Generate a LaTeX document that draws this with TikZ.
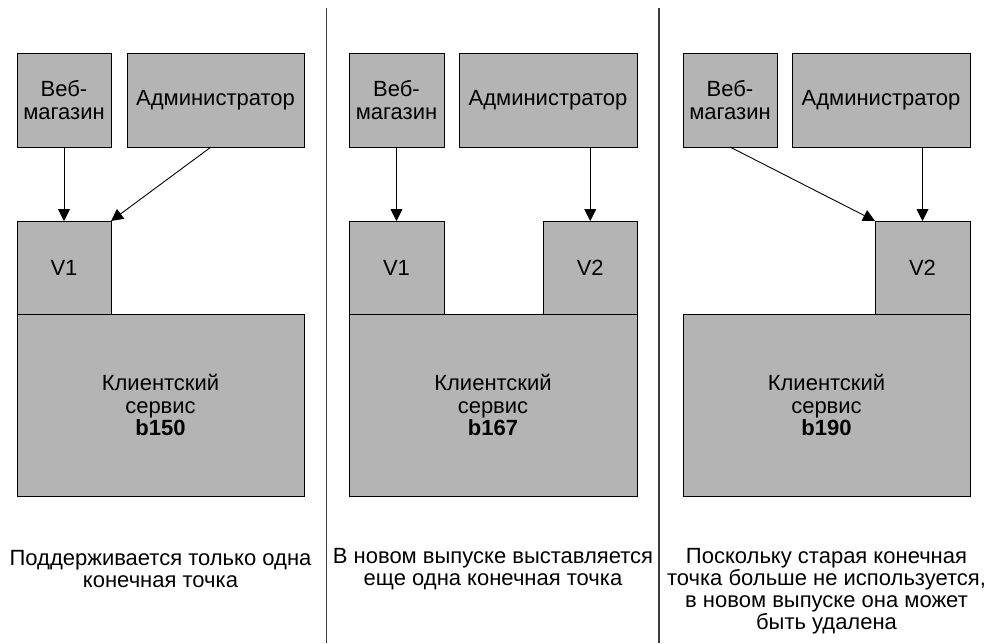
\documentclass[tikz,border=0pt]{standalone}
\usepackage{fontspec}
\setmainfont{Liberation Sans}
\usetikzlibrary{arrows.meta}
\definecolor{boxgray}{RGB}{180,180,180}
\definecolor{sepgray}{RGB}{60,60,60}
\begin{document}
\begin{tikzpicture}[x=1pt,y=-1pt,
  blk/.style={draw=black,line width=0.9pt,fill=boxgray,rectangle,inner sep=0pt,outer sep=0pt,
    font=\fontsize{22}{22.5}\selectfont,align=center},
  sz/.style n args={2}{minimum width=#1pt,minimum height=#2pt},
  captxt/.style={font=\fontsize{22}{22}\selectfont,align=center,inner sep=0pt},
  link/.style={line width=0.9pt,-{Triangle[length=12pt,width=12pt]}},
  sepline/.style={draw=sepgray,line width=1.2pt}]
\useasboundingbox (0,0) rectangle (988,643);

% separators between the three stages
\coordinate (s1top) at (326.5,8);
\coordinate (s1bot) at (326.5,643);
\coordinate (s2top) at (659,8);
\coordinate (s2bot) at (659,643);
\draw[sepline] (s1top) -- (s1bot);
\draw[sepline] (s2top) -- (s2bot);

% ---------- stage 1: b150 ----------
\node[blk,sz={94}{94}]   (web1) at (64,100)   {Веб-\\магазин};
\node[blk,sz={177}{94}]  (adm1) at (215.5,100) {Администратор};
\node[blk,sz={287}{182}] (cs1)  at (160.5,405) {Клиентский\\сервис\\\textbf{b150}};
\node[blk,sz={94}{93}]   (v1a)  at (64,267.5) {V1};
\draw[link] (web1.south) -- (v1a.north);
\draw[link] ([xshift=-4.5pt]adm1.south) -- (v1a.north east);
\node[captxt] (txt1) at (160.5,569) {Поддерживается только одна\\конечная точка};

% ---------- stage 2: b167 ----------
\node[blk,sz={95}{94}]   (web2) at (396.5,100) {Веб-\\магазин};
\node[blk,sz={178}{94}]  (adm2) at (548,100)   {Администратор};
\node[blk,sz={288}{182}] (cs2)  at (493,405)   {Клиентский\\сервис\\\textbf{b167}};
\node[blk,sz={95}{93}]   (v1b)  at (396.5,267.5) {V1};
\node[blk,sz={93.5}{93}] (v2b)  at (590.25,267.5) {V2};
\draw[link] (web2.south) -- (v1b.north);
\draw[link] (adm2.south -| v2b.north) -- (v2b.north);
\node[captxt] (txt2) at (493,569) {В новом выпуске выставляется\\еще одна конечная точка};

% ---------- stage 3: b190 ----------
\node[blk,sz={94}{94}]   (web3) at (730,100)   {Веб-\\магазин};
\node[blk,sz={178}{94}]  (adm3) at (881,100)   {Администратор};
\node[blk,sz={287}{182}] (cs3)  at (826.5,405) {Клиентский\\сервис\\\textbf{b190}};
\node[blk,sz={95}{93}]   (v2c)  at (922.5,267.5) {V2};
\draw[link] (web3.south) -- (v2c.north west);
\draw[link] (adm3.south -| v2c.north) -- (v2c.north);
\node[captxt] (txt3) at (826.5,591) {Поскольку старая конечная\\точка больше не используется,\\в новом выпуске она может\\быть удалена};
\end{tikzpicture}
\end{document}
